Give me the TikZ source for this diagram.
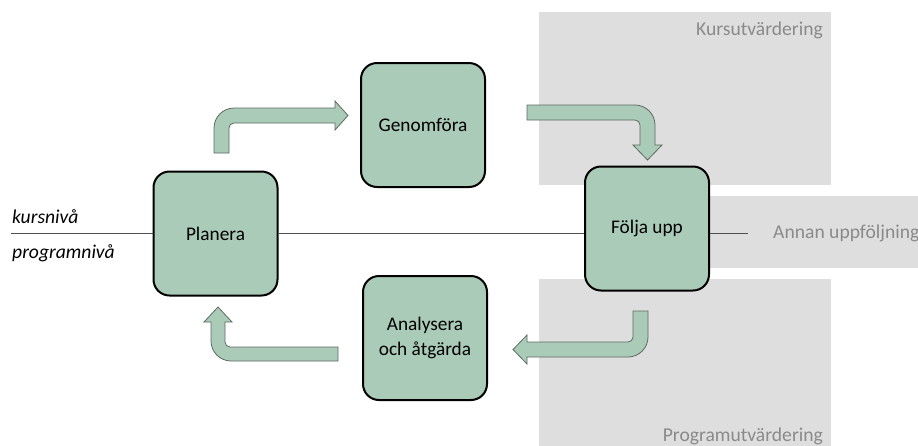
\documentclass[tikz,border=0pt]{standalone}
\usepackage{fontspec}
\setmainfont{Carlito}
\definecolor{boxgreen}{HTML}{AACBB7}
\definecolor{bggray}{HTML}{DEDEDE}
\definecolor{txtgray}{HTML}{8A8A8A}
\definecolor{arrowedge}{HTML}{5E6A62}
\definecolor{linegray}{HTML}{505050}
\begin{document}
\begin{tikzpicture}[x=1pt,y=-1pt,
  stepbox/.style={draw=black, line width=2pt, fill=boxgreen, rounded corners=16pt,
    minimum width=124pt, minimum height=124pt, align=center, inner sep=0pt,
    font=\fontsize{19.3}{25}\selectfont},
  bgbox/.style={fill=bggray, draw=none},
  bglabel/.style={text=txtgray, font=\fontsize{19.6}{23}\selectfont, inner sep=0pt},
  levellabel/.style={font=\fontsize{19.6}{23}\selectfont\itshape, inner sep=0pt},
  blockarrow/.style={fill=boxgreen, draw=arrowedge, line width=0.8pt, line join=miter},
  levelline/.style={draw=linegray, line width=0.8pt}]
\useasboundingbox (0,0) rectangle (918,445);
\begin{scope}
\clip (0,0) rectangle (918,445);
% background areas
\fill[bgbox] (539,12) rectangle (831,185);
\fill[bgbox] (700,196) rectangle (930,268);
\fill[bgbox] (539,279) rectangle (831,450);
\node[bglabel, anchor=base east] (kurs) at (823,35) {Kursutvärdering};
\node[bglabel, anchor=base west] (annan) at (773,238) {Annan uppföljning};
\node[bglabel, anchor=base east] (prog) at (823,441) {Programutvärdering};
\end{scope}
% level labels
\node[levellabel, anchor=base west] (kn) at (12,223) {kursnivå};
\node[levellabel, anchor=base west] (pn) at (12,258) {programnivå};
% nodes
\node[stepbox] (planera) at (215.5,233.5) {Planera};
\node[stepbox] (genom) at (423,125) {Genomföra};
\node[stepbox] (folja) at (647,228.5) {Följa upp};
\node[stepbox] (analys) at (425,338) {Analysera\\och åtgärda};
% level line
\coordinate (lstart) at (11,233);
\coordinate (lend) at (748,233);
\draw[levelline] (lstart) -- (lstart -| planera.west);
\draw[levelline] (planera.east |- lstart) -- (folja.west |- lstart);
\draw[levelline] (folja.east |- lend) -- (lend);
% block arrows
\draw[blockarrow] (214,153) -- (214,128) .. controls (214,117) and (223,108) .. (234,108)
  -- (335,108) -- (335,101) -- (348,115.5) -- (335,130) -- (335,123) -- (234,123)
  .. controls (231.2,123) and (229,125.2) .. (229,128) -- (229,153) -- cycle;
\draw[blockarrow] (527,105) -- (635,105) .. controls (646,105) and (655,114) .. (655,125)
  -- (655,145) -- (662,145) -- (647.5,160) -- (633,145) -- (640,145) -- (640,125)
  .. controls (640,122.2) and (637.8,120) .. (635,120) -- (527,120) -- cycle;
\draw[blockarrow] (633,311) -- (648,311) -- (648,337) .. controls (648,348) and (639,357) .. (628,357)
  -- (527,357) -- (527,364) -- (513,349.5) -- (527,335) -- (527,342) -- (628,342)
  .. controls (630.8,342) and (633,339.8) .. (633,337) -- cycle;
\draw[blockarrow] (338,347) -- (338,361) -- (231,361) .. controls (220,361) and (211,352) .. (211,341)
  -- (211,322) -- (204,322) -- (218,307) -- (232,322) -- (225,322) -- (225,342)
  .. controls (225,344.8) and (227.2,347) .. (230,347) -- cycle;
\end{tikzpicture}
\end{document}
